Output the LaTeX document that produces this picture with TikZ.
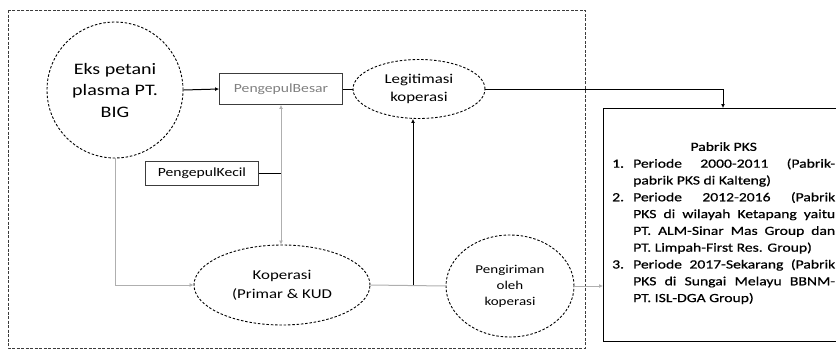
\documentclass[tikz,border=0pt]{standalone}
\usepackage{fontspec}
\setmainfont{Carlito}
\newfontfamily\lblfont[FakeStretch=1.25]{Carlito}
\newfontfamily\boxfont[FakeStretch=1.25,FakeBold=0.6]{Carlito}
\usetikzlibrary{arrows.meta,shapes.geometric}
\definecolor{lgray}{RGB}{175,175,175}
\definecolor{dgray}{RGB}{60,60,60}
\newcommand{\itemline}[2]{\hbox{\makebox[21pt][l]{#1}\makebox[202pt][s]{#2}}}
\newcommand{\fullline}[1]{\hbox{\hspace*{21pt}\makebox[202pt][s]{#1}}}
\newcommand{\lastline}[1]{\hbox{\hspace*{21pt}#1}}
\begin{document}
\begin{tikzpicture}[x=1pt,y=-1pt,
  dashedshape/.style={draw=black,dashed,dash pattern=on 2.5pt off 1.8pt,line width=0.9pt},
  roundnode/.style={dashedshape,circle,minimum size=136pt,inner sep=0pt,align=center,
    font=\lblfont\fontsize{16}{21.5}\selectfont},
  ovalnode/.style={dashedshape,ellipse,inner sep=0pt,align=center},
  plainbox/.style={draw=dgray,line width=0.9pt,inner sep=0pt},
  blackline/.style={draw=black,line width=1pt},
  grayline/.style={draw=lgray,line width=1pt},
  tip/.style={-{Latex[length=4pt,width=4pt]}},
  bothtip/.style={{Latex[length=4pt,width=4pt]}-{Latex[length=4pt,width=4pt]}},
]
\useasboundingbox (0,0) rectangle (836,349);

% outer dashed frame
\draw[dgray,dashed,dash pattern=on 3pt off 1.5pt,line width=0.9pt] (8,10) rectangle (585,348);

% nodes
\node[roundnode] (eks) at (115,90) {Eks petani\\plasma PT.\\BIG};
\node[plainbox,minimum width=123pt,minimum height=31pt,text=gray,
  font=\lblfont\fontsize{12.5}{14}\selectfont] (besar) at (281,89) {PengepulBesar};
\node[ovalnode,minimum width=132pt,minimum height=59pt,
  font=\lblfont\fontsize{13.5}{18}\selectfont] (legit) at (419,89) {Legitimasi\\koperasi};
\node[plainbox,minimum width=113pt,minimum height=24pt,
  font=\lblfont\fontsize{12.5}{14}\selectfont] (kecil) at (202,173) {PengepulKecil};
\node[ovalnode,minimum width=176pt,minimum height=80pt,
  font=\lblfont\fontsize{13.5}{19}\selectfont] (kop) at (282,285) {Koperasi\\(Primar \& KUD};
\node[ovalnode,minimum width=128pt,minimum height=102pt,
  font=\lblfont\fontsize{12}{16}\selectfont] (kirim) at (510,286) {Pengiriman\\oleh\\koperasi};
\node[draw=black,line width=1.2pt,minimum width=247pt,minimum height=233pt,inner sep=0pt,
  anchor=north west] (pabrik) at (603,108) {};
\node[anchor=north west,inner sep=0pt] (pabriktext) at (612,142) {%
  \boxfont\fontsize{12.5}{16.8}\selectfont
  \vbox{\hsize=223pt\baselineskip=16.8pt
  \hbox{\makebox[223pt][c]{Pabrik PKS}}
  \itemline{1.}{Periode 2000-2011 (Pabrik-}
  \lastline{pabrik PKS di Kalteng)}
  \itemline{2.}{Periode 2012-2016 (Pabrik}
  \fullline{PKS di wilayah Ketapang yaitu}
  \fullline{PT. ALM-Sinar Mas Group dan}
  \lastline{PT. Limpah-First Res. Group)}
  \itemline{3.}{Periode 2017-Sekarang (Pabrik}
  \fullline{PKS di Sungai Melayu BBNM-}
  \lastline{PT. ISL-DGA Group)}}};

% junction points
\coordinate (split) at (413,285);
\coordinate (pabrikin) at (723,108);

% connectors
\draw[blackline,tip] (eks.east) -- (besar.west);
\draw[blackline] (besar.east) -- (legit.west);
\draw[blackline,tip] (legit.east) -| (pabrikin);
\draw[grayline,bothtip] (besar.south) -- (besar.south |- kop.north);
\draw[blackline] (kecil.east) -- (kecil.east -| besar.south);
\draw[grayline,tip] (eks.south) |- (kop.west);
\draw[grayline] (kop.east) -- (kirim.west);
\draw[blackline,tip] (split) -- (split |- legit.south);
\draw[grayline,tip] (kirim.east) -- (kirim.east -| pabrik.west);
\end{tikzpicture}
\end{document}
